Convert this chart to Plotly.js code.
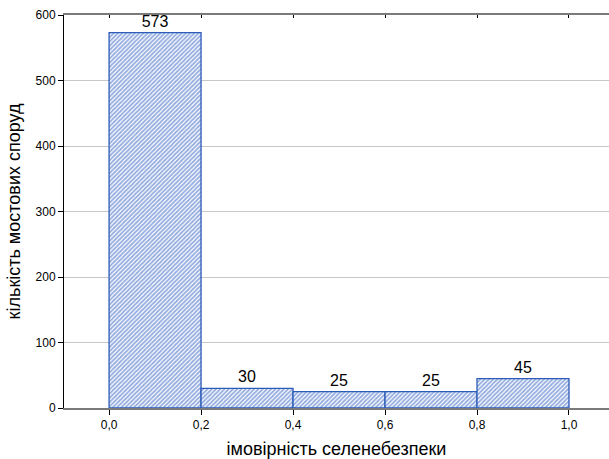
<!DOCTYPE html>
<html>
<head>
<meta charset="utf-8">
<script src="https://cdn.plot.ly/plotly-3.0.1.min.js"></script>
<style>html,body{margin:0;padding:0;background:#fff;}#chart{width:609px;height:459px;}</style>
</head>
<body>
<div id="chart"></div>
<script>
const binCenters = [0.1, 0.3, 0.5, 0.7, 0.9];
const binWidths = [0.2, 0.2, 0.2, 0.2, 0.2];
const counts = [573, 30, 25, 25, 45];
const tickValsX = [0.0, 0.2, 0.4, 0.6, 0.8, 1.0];
const tickValsY = [0, 100, 200, 300, 400, 500, 600];
const xTitle = 'імовірність селенебезпеки';
const yTitle = 'кількість мостових споруд';

const font = 'Liberation Sans, Arial, sans-serif';

const data = [{
  type: 'bar',
  x: binCenters,
  y: counts,
  width: binWidths,
  text: counts.map(String),
  textposition: 'outside',
  cliponaxis: false,
  textfont: {family: font, size: 16, color: '#000'},
  marker: {
    color: '#ffffff',
    line: {color: '#2b5cb8', width: 1.3},
    pattern: {shape: '/', size: 3, solidity: 0.6, fgcolor: '#2858c0', bgcolor: '#ffffff', fillmode: 'overlay'}
  },
  hoverinfo: 'none'
}];

const layout = {
  width: 609, height: 459,
  margin: {l: 64, r: 0, t: 15, b: 51},
  paper_bgcolor: '#fff', plot_bgcolor: '#fff',
  separators: ',.',
  showlegend: false,
  bargap: 0,
  font: {family: font, size: 12, color: '#000'},
  xaxis: {
    range: [-0.098, 1.087],
    tickvals: tickValsX,
    tickformat: '.1f',
    ticks: 'outside', ticklen: 5, tickcolor: '#000', tickwidth: 1,
    showline: true, linecolor: '#7a7a7a', linewidth: 2,
    showgrid: false, zeroline: false,
    tickfont: {family: font, size: 12, color: '#000'},
    title: {text: xTitle, font: {family: font, size: 18, color: '#000'}, standoff: 11}
  },
  xaxis2: {
    overlaying: 'x', side: 'top', matches: 'x',
    range: [-0.098, 1.087],
    tickvals: tickValsX,
    ticks: 'inside', ticklen: 3, tickcolor: '#000', tickwidth: 1,
    showticklabels: false,
    showline: true, linecolor: '#7a7a7a', linewidth: 2,
    showgrid: false, zeroline: false
  },
  yaxis: {
    range: [0, 600],
    tickvals: tickValsY,
    ticks: 'outside', ticklen: 5, tickcolor: '#000', tickwidth: 1,
    showline: true, linecolor: '#000', linewidth: 1,
    showgrid: true, gridcolor: '#c8c8c8', gridwidth: 1,
    zeroline: false,
    tickfont: {family: font, size: 12, color: '#000'},
    title: {text: yTitle, font: {family: font, size: 18, color: '#000'}, standoff: 10}
  }
};

data.push({type: 'scatter', x: [], y: [], xaxis: 'x2', yaxis: 'y', hoverinfo: 'none', showlegend: false});

Plotly.newPlot('chart', data, layout, {staticPlot: true, displayModeBar: false});
</script>
</body>
</html>
